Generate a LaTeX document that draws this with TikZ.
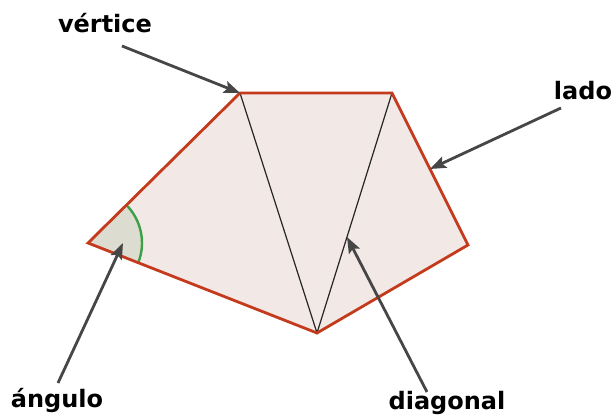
\documentclass[tikz,border=0pt]{standalone}
\usepackage{fontspec}
\setmainfont{DejaVu Sans}
\usetikzlibrary{calc,arrows.meta}
\definecolor{sideRed}{RGB}{196,58,28}
\definecolor{fillPink}{RGB}{242,232,230}
\definecolor{angleGray}{RGB}{220,220,208}
\definecolor{arcGreen}{RGB}{60,158,70}
\definecolor{pointerGray}{RGB}{70,70,70}
\tikzset{
  pointer/.style={draw=pointerGray,line width=2.8pt,-{Stealth[length=16pt,width=12pt,inset=3pt]}},
  tag/.style={font=\bfseries\fontsize{24}{28}\selectfont,inner sep=0pt,anchor=base}
}

\begin{document}
\begin{tikzpicture}[x=1pt,y=1pt]
  \useasboundingbox (0,0) rectangle (616,419);
  % vertices of the pentagon
  \coordinate (A) at (88,176);
  \coordinate (B) at (240,326);
  \coordinate (C) at (392,326);
  \coordinate (D) at (468,174);
  \coordinate (E) at (317,86);
  \fill[fillPink] (A) -- (B) -- (C) -- (D) -- (E) -- cycle;
  % angle at A
  \fill[angleGray] (A) -- ++(44.6:54) arc[start angle=44.6,end angle=-21.5,radius=54] -- cycle;
  \draw[arcGreen,line width=2.4pt] ($(A)+(44.6:54)$) arc[start angle=44.6,end angle=-21.5,radius=54];
  % diagonals
  \draw[black!85,line width=1.2pt] (B) -- (E) -- (C);
  \draw[sideRed,line width=2.8pt,line join=miter] (A) -- (B) -- (C) -- (D) -- (E) -- cycle;
  % labels
  \node[tag] (vertice) at (105,386) {vértice};
  \node[tag] (lado) at (583,319) {lado};
  \node[tag] (angulo) at (57,11) {ángulo};
  \node[tag] (diagonal) at (447,9) {diagonal};
  % pointers
  \coordinate (verticeTail) at (122,373);
  \coordinate (ladoTail) at (561,311);
  \coordinate (anguloTail) at (58,36);
  \coordinate (diagonalTail) at (427,27);
  \draw[pointer] (verticeTail) -- (B);
  \draw[pointer] (ladoTail) -- ($(C)!0.5!(D)$);
  \draw[pointer] (anguloTail) -- ($(A)+(35,0)$);
  \draw[pointer] (diagonalTail) -- ($(E)!0.4!(C)$);
\end{tikzpicture}
\end{document}
